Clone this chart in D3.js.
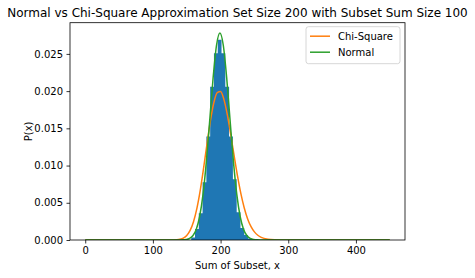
<!DOCTYPE html>
<html>
<head>
<meta charset="utf-8">
<script src="https://cdn.jsdelivr.net/npm/d3@7/dist/d3.min.js"></script>
<style>
  html, body { margin: 0; padding: 0; background: #fff; }
  svg { display: block; font-family: "DejaVu Sans", sans-serif; }
</style>
</head>
<body>
<svg id="chart" width="475" height="278"></svg>
<script>
// ---- data ----
const titleText = "Normal vs Chi-Square Approximation Set Size 200 with Subset Sum Size 100";
const xLabel = "Sum of Subset, x";
const yLabel = "P(x)";
const xTicks = [0, 100, 200, 300, 400];
const yTicks = [0.000, 0.005, 0.010, 0.015, 0.020, 0.025];

// histogram (density) – bin edges and heights
const binEdges = [156.6, 162.2, 167.8, 173.4, 179.0, 184.6, 190.2, 195.8, 201.4, 207.0, 212.6, 218.2, 223.8, 229.4, 235.0, 240.6, 246.2];
const binHeights = [0.00033, 0.00147, 0.0036, 0.00775, 0.0139, 0.0206, 0.0251, 0.0269, 0.0251, 0.0206, 0.0139, 0.00816, 0.00374, 0.0016, 0.00067, 0.0002];

// Chi-Square curve
const chiX = [0, 100, 120, 130, 135, 140, 145, 150, 155, 160, 165, 170, 175, 180, 185, 190, 195, 200, 205, 210, 215, 220, 225, 230, 235, 240, 245, 250, 255, 260, 270, 280, 290, 300, 450];
const chiY = [0, 0, 0.0000005, 0.0000095, 0.0000327, 0.0000983, 0.00026, 0.000613, 0.001294, 0.00246, 0.00425, 0.0067, 0.00971, 0.01296, 0.01604, 0.01843, 0.0198, 0.01994, 0.01886, 0.01682, 0.01418, 0.01134, 0.00861, 0.00623, 0.0043, 0.00283, 0.00179, 0.001088, 0.000634, 0.000355, 0.0001005, 0.0000248, 0.0000054, 0.000001, 0];

// Normal curve
const normX = [0, 129, 139, 144, 149, 154, 159, 164, 169, 174, 179, 184, 189, 194, 199, 204, 209, 214, 219, 224, 229, 234, 239, 244, 249, 254, 259, 269, 450];
const normY = [0, 0, 0.000004, 0.000018, 0.000064, 0.000204, 0.000571, 0.00142, 0.003125, 0.006094, 0.01053, 0.0161, 0.02181, 0.02616, 0.0278, 0.02616, 0.02181, 0.0161, 0.01053, 0.006094, 0.003125, 0.00142, 0.000571, 0.000204, 0.000064, 0.000018, 0.000004, 0, 0];

const seriesNames = ["Chi-Square", "Normal"];
const colors = { hist: "#1f77b4", chi: "#ff7f0e", norm: "#2ca02c" };

// ---- layout ----
const svg = d3.select("#chart");
const L = 70, R = 405, T = 22.7, B = 240;

const x = d3.scaleLinear().domain([-22.5, 472.5]).range([L, R]);
const y = d3.scaleLinear().domain([0, 0.02919]).range([B, T]);

svg.append("defs").append("clipPath").attr("id", "clip")
  .append("rect").attr("x", L).attr("y", T).attr("width", R - L).attr("height", B - T);

const plot = svg.append("g").attr("clip-path", "url(#clip)");

// histogram as one seamless step path
const p = d3.path();
p.moveTo(x(binEdges[0]), y(0));
binHeights.forEach((h, i) => {
  p.lineTo(x(binEdges[i]), y(h));
  p.lineTo(x(binEdges[i + 1]), y(h));
});
p.lineTo(x(binEdges[binEdges.length - 1]), y(0));
p.closePath();
plot.append("path").attr("d", p.toString()).attr("fill", colors.hist);

const line = d3.line().x(d => x(d[0])).y(d => y(d[1])).curve(d3.curveMonotoneX);

plot.append("path")
  .datum(chiX.map((v, i) => [v, chiY[i]]))
  .attr("d", line).attr("fill", "none")
  .attr("stroke", colors.chi).attr("stroke-width", 1.5);

plot.append("path")
  .datum(normX.map((v, i) => [v, normY[i]]))
  .attr("d", line).attr("fill", "none")
  .attr("stroke", colors.norm).attr("stroke-width", 1.5);

// axes
const xAxis = d3.axisBottom(x).tickValues(xTicks).tickSize(3.5).tickPadding(3.5).tickFormat(d3.format("d"));
const yAxis = d3.axisLeft(y).tickValues(yTicks).tickSize(3.5).tickPadding(3.5).tickFormat(d3.format(".3f"));

const gx = svg.append("g").attr("transform", `translate(0,${B})`).call(xAxis);
const gy = svg.append("g").attr("transform", `translate(${L},0)`).call(yAxis);
[gx, gy].forEach(g => {
  g.select(".domain").remove();
  g.selectAll(".tick line").attr("stroke", "#000").attr("stroke-width", 0.8);
  g.selectAll(".tick text").attr("fill", "#000").style("font-size", "10px").style("font-family", "DejaVu Sans");
});

// spines
svg.append("rect").attr("x", L).attr("y", T).attr("width", R - L).attr("height", B - T)
  .attr("fill", "none").attr("stroke", "#000").attr("stroke-width", 0.8);

// labels
svg.append("text").attr("x", (L + R) / 2).attr("y", 17).attr("text-anchor", "middle")
  .style("font-size", "12px").attr("fill", "#000").text(titleText);
svg.append("text").attr("x", (L + R) / 2).attr("y", 269).attr("text-anchor", "middle")
  .style("font-size", "10px").attr("fill", "#000").text(xLabel);
svg.append("text").attr("transform", `translate(28,${(T + B) / 2}) rotate(-90)`)
  .attr("text-anchor", "middle").attr("dy", "0.35em")
  .style("font-size", "10px").attr("fill", "#000").text(yLabel);

// legend
const legW = 94, legH = 37;
const legX = R - 5 - legW, legY = T + 4;
const leg = svg.append("g");
leg.append("rect").attr("x", legX).attr("y", legY).attr("width", legW).attr("height", legH)
  .attr("rx", 2.5).attr("fill", "#fff").attr("fill-opacity", 0.8)
  .attr("stroke", "#cccccc").attr("stroke-width", 0.8);
const legColors = [colors.chi, colors.norm];
seriesNames.forEach((name, i) => {
  const cy = legY + 9.5 + i * 16;
  leg.append("line").attr("x1", legX + 4).attr("x2", legX + 24).attr("y1", cy).attr("y2", cy)
    .attr("stroke", legColors[i]).attr("stroke-width", 1.5);
  leg.append("text").attr("x", legX + 32).attr("y", cy).attr("dy", "0.35em")
    .style("font-size", "10px").attr("fill", "#000").text(name);
});
</script>
</body>
</html>
